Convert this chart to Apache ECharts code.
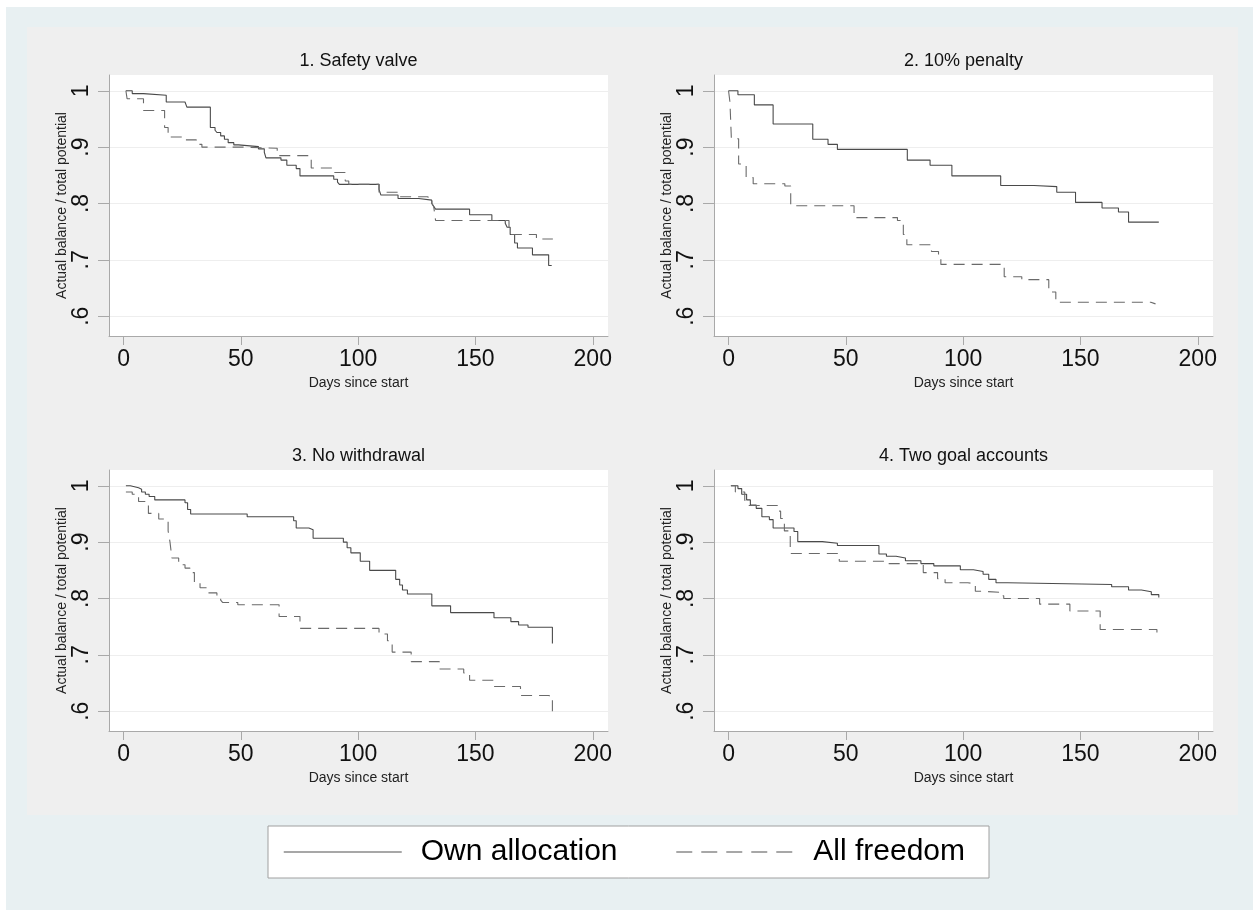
<!DOCTYPE html>
<html><head><meta charset="utf-8">
<script src="https://cdn.jsdelivr.net/npm/echarts@6/dist/echarts.min.js"></script>
<style>html,body{margin:0;padding:0;background:#fff;} #c{width:1253px;height:910px;}</style>
</head><body><div id="c"></div>
<script>
// ---------- data ----------
const panelTitles = ['1. Safety valve', '2. 10% penalty', '3. No withdrawal', '4. Two goal accounts'];
const seriesNames = ['Own allocation', 'All freedom'];
const xTicks = [0, 50, 100, 150, 200];
const yTicks = [0.6, 0.7, 0.8, 0.9, 1];
const xTitle = 'Days since start';
const yTitle = 'Actual balance / total potential';

// [day, value] change points (step curves)
const safetyOwn = [[1,1],[3.7,0.995],[8.5,0.992],[18.2,0.98],[26.2,0.977],[27,0.971],[37,0.935],[39,0.93],[39.8,0.926],[41.4,0.92],[43,0.914],[44.6,0.908],[47,0.904],[49,0.901],[57.5,0.897],[60,0.891],[60.7,0.881],[67.1,0.877],[69.6,0.868],[73.6,0.862],[75.2,0.849],[89.6,0.843],[91.2,0.838],[92,0.834],[108.9,0.825],[109.7,0.815],[117,0.809],[125.8,0.806],[131.4,0.8],[132.2,0.795],[133,0.79],[147.5,0.78],[157,0.77],[162.7,0.765],[163.5,0.758],[164.8,0.745],[166.7,0.73],[167.9,0.721],[174.3,0.709],[181.2,0.69],[182.5,0.69]];
const safetyFree = [[1,1],[1.5,0.986],[8.5,0.965],[17.5,0.935],[19,0.918],[26,0.913],[31,0.905],[33.4,0.9],[52,0.898],[65.5,0.885],[80,0.863],[88.8,0.855],[94.5,0.84],[96,0.834],[108.9,0.82],[117.8,0.812],[129.8,0.806],[131.4,0.8],[132.2,0.795],[133,0.77],[164.3,0.758],[165,0.745],[176,0.737],[183,0.737]];
const penaltyOwn = [[0,1],[4,0.993],[11,0.975],[19,0.941],[35.9,0.914],[42.4,0.905],[46.4,0.896],[76.2,0.877],[85.9,0.868],[95.2,0.849],[116,0.832],[130.2,0.83],[139.9,0.82],[147.9,0.802],[159.2,0.792],[166.2,0.785],[170.5,0.767],[183.4,0.767]];
const penaltyFree = [[0,1],[0.6,0.98],[1.2,0.915],[4.3,0.87],[7.5,0.846],[10.5,0.835],[24,0.831],[26.5,0.796],[53.5,0.775],[72,0.77],[74.5,0.745],[76,0.727],[86.5,0.715],[89.5,0.705],[90.5,0.692],[117.5,0.67],[125,0.665],[136.5,0.643],[139.5,0.625],[180,0.622],[182,0.622]];
const noWithdrawOwn = [[1,1],[2.9,0.9965],[6.4,0.994],[7.7,0.989],[9.3,0.985],[10.9,0.981],[13.3,0.975],[26.2,0.97],[27.3,0.958],[28.6,0.95],[52.7,0.945],[72.5,0.938],[73.6,0.925],[79,0.922],[80.8,0.907],[93.7,0.9],[95.3,0.89],[96.9,0.881],[100.9,0.866],[104.9,0.85],[116,0.834],[117.7,0.824],[118.9,0.815],[121,0.808],[131.4,0.787],[139.4,0.775],[157.9,0.766],[165.1,0.759],[168.4,0.753],[172.4,0.749],[182.8,0.72],[183,0.72]];
const noWithdrawFree = [[1,0.989],[3.7,0.985],[5,0.981],[6.4,0.972],[10.6,0.951],[15,0.941],[19,0.92],[19.8,0.9],[20.6,0.872],[23.5,0.86],[26.2,0.854],[28.3,0.846],[30.2,0.829],[32.6,0.819],[35.8,0.81],[39.8,0.804],[41.4,0.797],[42.2,0.793],[48.7,0.789],[66.3,0.768],[75.2,0.747],[108.9,0.737],[112.5,0.725],[114.5,0.705],[122.6,0.688],[134.6,0.675],[145,0.668],[147.5,0.655],[157.9,0.644],[169.2,0.628],[181.5,0.62],[182.8,0.595],[183,0.595]];
const twoGoalOwn = [[1,1],[4,0.995],[5.6,0.985],[7.7,0.975],[9.3,0.966],[11.8,0.96],[14.2,0.945],[17.4,0.94],[19,0.925],[27.9,0.919],[29.5,0.901],[40,0.898],[46.4,0.894],[64.1,0.879],[67.3,0.875],[71.4,0.872],[75.4,0.867],[82,0.862],[87.5,0.858],[98.8,0.851],[104.4,0.848],[108.5,0.843],[110.9,0.834],[114,0.828],[118.9,0.825],[163.3,0.821],[170.5,0.815],[176,0.812],[180.2,0.807],[183.4,0.802]];
const twoGoalFree = [[1,1],[2.9,0.989],[6.9,0.975],[7.7,0.965],[21,0.955],[22.2,0.942],[23.8,0.92],[26.3,0.88],[47.2,0.866],[66.6,0.862],[83,0.846],[89.1,0.835],[92.3,0.828],[102,0.826],[105.2,0.813],[107.7,0.811],[115.7,0.805],[117.3,0.8],[132.6,0.79],[145.5,0.778],[158.4,0.745],[182.6,0.73],[183,0.73]];

const panelOwn = [safetyOwn, penaltyOwn, noWithdrawOwn, twoGoalOwn];
const panelFree = [safetyFree, penaltyFree, noWithdrawFree, twoGoalFree];

// ---------- layout / style ----------
const FONT = '"Liberation Sans", Arial, Helvetica, sans-serif';
const grids = [
  {left: 109, top: 75, width: 499, height: 261},
  {left: 714, top: 75, width: 499, height: 261},
  {left: 109, top: 470, width: 499, height: 261},
  {left: 714, top: 470, width: 499, height: 261}
];
const axisGray = '#a9a9a9';

const option = {
  animation: false,
  backgroundColor: '#ffffff',
  grid: grids.map(g => Object.assign({show: true, backgroundColor: '#ffffff', borderWidth: 0}, g)),
  xAxis: grids.map((g, i) => ({
    gridIndex: i, type: 'value', min: -6.2, max: 206.5,
    axisLine: {show: true, onZero: false, lineStyle: {color: axisGray, width: 1}},
    axisTick: {show: true, length: 9, customValues: xTicks, lineStyle: {color: axisGray}},
    axisLabel: {customValues: xTicks, fontSize: 23, color: '#111', margin: 12, fontFamily: FONT},
    splitLine: {show: false},
    name: xTitle, nameLocation: 'middle', nameGap: 40,
    nameTextStyle: {fontSize: 14, color: '#222', fontFamily: FONT}
  })),
  yAxis: grids.map((g, i) => ({
    gridIndex: i, type: 'value', min: 0.565, max: 1.028,
    axisLine: {show: true, onZero: false, lineStyle: {color: axisGray, width: 1}},
    axisTick: {show: true, length: 11, customValues: yTicks, lineStyle: {color: axisGray}},
    axisLabel: {customValues: yTicks, rotate: 90, fontSize: 23, color: '#111', margin: 16, fontFamily: FONT,
      formatter: v => (Math.abs(v - 1) < 1e-9 ? '1' : v.toFixed(1).replace(/^0/, ''))},
    splitLine: {show: true, lineStyle: {color: '#eeeeee', width: 1}},
    name: yTitle, nameLocation: 'middle', nameGap: 40,
    nameTextStyle: {fontSize: 14, color: '#222', fontFamily: FONT}
  })),
  legend: {
    left: 268, top: 826, orient: 'horizontal',
    data: [
      {name: seriesNames[0]},
      {name: seriesNames[1], lineStyle: {type: [16, 9]}}
    ],
    selectedMode: false,
    itemWidth: 118, itemHeight: 14, itemGap: 58,
    padding: [11, 24, 11, 15],
    itemStyle: {opacity: 0},
    lineStyle: {opacity: 1, color: '#8a8a8a', width: 1.5},
    backgroundColor: '#ffffff', borderColor: '#a0a0a0', borderWidth: 1, borderRadius: 0,
    textStyle: {fontSize: 30, color: '#000', fontFamily: FONT, padding: [0, 0, 0, 14]}
  },
  graphic: [
    {type: 'rect', z: -100, silent: true, shape: {x: 6, y: 7, width: 1247, height: 903}, style: {fill: '#e8f0f2'}},
    {type: 'rect', z: -99, silent: true, shape: {x: 27, y: 27, width: 1211, height: 788}, style: {fill: '#efefef'}}
  ].concat(panelTitles.map((t, i) => ({
    type: 'text', silent: true,
    x: grids[i].left + grids[i].width / 2, y: grids[i].top - 14,
    style: {text: t, fontSize: 18, fontFamily: FONT, fill: '#111', align: 'center', verticalAlign: 'middle'}
  }))),
  series: []
};

for (let i = 0; i < 4; i++) {
  option.series.push({
    name: seriesNames[0], type: 'line', step: 'end', xAxisIndex: i, yAxisIndex: i,
    data: panelOwn[i], symbol: 'none', color: '#4a4a4a',
    lineStyle: {color: '#4a4a4a', width: 1.1, type: 'solid'}
  });
  option.series.push({
    name: seriesNames[1], type: 'line', step: 'end', xAxisIndex: i, yAxisIndex: i,
    data: panelFree[i], symbol: 'none', color: '#6a6a6a',
    lineStyle: {color: '#6a6a6a', width: 1.1, type: [11, 7]}
  });
}

const chart = echarts.init(document.getElementById('c'), null, {renderer: 'canvas'});
chart.setOption(option);
</script>
</body></html>
